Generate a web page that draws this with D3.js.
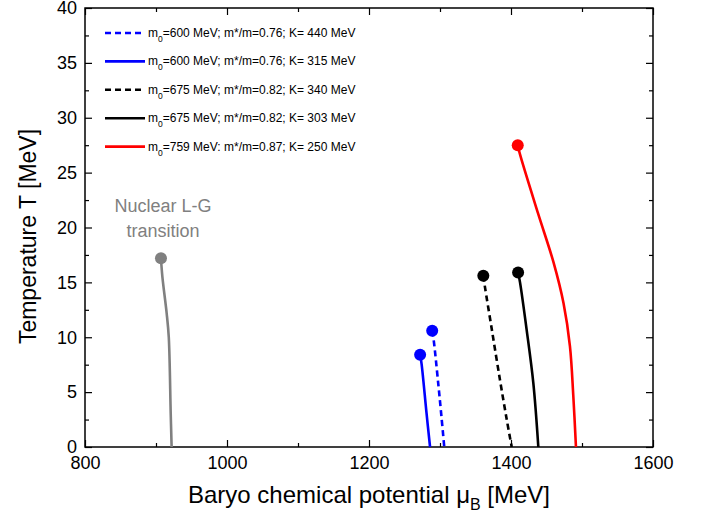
<!DOCTYPE html>
<html>
<head>
<meta charset="utf-8">
<script src="https://cdn.jsdelivr.net/npm/d3@7/dist/d3.min.js"></script>
<style>
  body { margin: 0; background: #fff; }
  svg { font-family: "Liberation Sans", Arial, sans-serif; }
</style>
</head>
<body>
<svg id="chart" width="707" height="516"></svg>
<script>
// curves: [muB, T], top (critical point) first
const grayCurve = [[907, 17.2], [909, 15.5], [915, 12.2], [918, 10.0], [920.7, 3.1], [922, 0]];
const blueSolid = [[1272, 8.4], [1274, 7.6], [1281, 3.1], [1286, 0]];
const blueDashed = [[1289, 10.6], [1291, 9.8], [1297.5, 5.8], [1302, 2.8], [1306, 0]];
const blackDashed = [[1361, 15.6], [1363.5, 14.5], [1373, 10.7], [1384.5, 6.1], [1394, 2.5], [1401, 0]];
const blackSolid = [[1410, 15.9], [1412.7, 15.0], [1422, 10.7], [1431.5, 5.8], [1438.5, 0]];
const redSolid = [[1409.5, 27.5], [1412.5, 26.7], [1438, 21.3], [1460, 16.8], [1474, 13.1], [1483, 9.2], [1487.8, 4.6], [1491.5, 0]];

const series = [
  { data: blueDashed, color: "#0000ff", dashed: true, label: ["600", "MeV; m*/m=0.76; K= 440 MeV"] },
  { data: blueSolid, color: "#0000ff", dashed: false, label: ["600", "MeV; m*/m=0.76; K= 315 MeV"] },
  { data: blackDashed, color: "#000000", dashed: true, label: ["675", "MeV; m*/m=0.82; K= 340 MeV"] },
  { data: blackSolid, color: "#000000", dashed: false, label: ["675", "MeV; m*/m=0.82; K= 303 MeV"] },
  { data: redSolid, color: "#ff0000", dashed: false, label: ["759", "MeV: m*/m=0.87; K= 250 MeV"] }
];

const xTicks = [800, 1000, 1200, 1400, 1600];
const yTicks = [0, 5, 10, 15, 20, 25, 30, 35, 40];

const svg = d3.select("#chart");
const margin = { top: 8, right: 54, bottom: 69, left: 85 };
const width = +svg.attr("width") - margin.left - margin.right;
const height = +svg.attr("height") - margin.top - margin.bottom;

const x = d3.scaleLinear().domain([800, 1600]).range([0, width]);
const y = d3.scaleLinear().domain([0, 40]).range([height, 0]);

const g = svg.append("g").attr("transform", `translate(${margin.left},${margin.top})`);

// minor ticks
const xMinor = d3.range(900, 1600, 200);
const yMinor = d3.range(2.5, 40, 5);

function styleAxis(sel) {
  sel.select(".domain").remove();
  sel.selectAll(".tick line").attr("stroke", "#000").attr("stroke-width", 1.2);
  sel.selectAll(".tick text").attr("fill", "#000").attr("font-size", 18)
    .attr("font-family", "'Liberation Sans', Arial, sans-serif");
}

// bottom
g.append("g").attr("transform", `translate(0,${height})`)
  .call(d3.axisBottom(x).tickValues(xTicks).tickFormat(d3.format("d")).tickSizeInner(-7).tickSizeOuter(0).tickPadding(9))
  .call(styleAxis);
g.append("g").attr("transform", `translate(0,${height})`)
  .call(d3.axisBottom(x).tickValues(xMinor).tickFormat("").tickSizeInner(-4).tickSizeOuter(0))
  .call(styleAxis);
// top
g.append("g")
  .call(d3.axisTop(x).tickValues(xTicks).tickFormat("").tickSizeInner(-7).tickSizeOuter(0))
  .call(styleAxis);
g.append("g")
  .call(d3.axisTop(x).tickValues(xMinor).tickFormat("").tickSizeInner(-4).tickSizeOuter(0))
  .call(styleAxis);
// left
g.append("g")
  .call(d3.axisLeft(y).tickValues(yTicks).tickFormat(d3.format("d")).tickSizeInner(-7).tickSizeOuter(0).tickPadding(8))
  .call(styleAxis);
g.append("g")
  .call(d3.axisLeft(y).tickValues(yMinor).tickFormat("").tickSizeInner(-4).tickSizeOuter(0))
  .call(styleAxis);
// right
g.append("g").attr("transform", `translate(${width},0)`)
  .call(d3.axisRight(y).tickValues(yTicks).tickFormat("").tickSizeInner(-7).tickSizeOuter(0))
  .call(styleAxis);
g.append("g").attr("transform", `translate(${width},0)`)
  .call(d3.axisRight(y).tickValues(yMinor).tickFormat("").tickSizeInner(-4).tickSizeOuter(0))
  .call(styleAxis);

// frame
g.append("rect").attr("width", width).attr("height", height)
  .attr("fill", "none").attr("stroke", "#000").attr("stroke-width", 1.5);

const line = d3.line().x(d => x(d[0])).y(d => y(d[1])).curve(d3.curveCatmullRom.alpha(0.5));

function drawCurve(data, color, dashed) {
  g.append("path").datum(data)
    .attr("d", line)
    .attr("fill", "none")
    .attr("stroke", color)
    .attr("stroke-width", 2.6)
    .attr("stroke-linejoin", "round")
    .attr("stroke-dasharray", dashed ? "6,4" : null);
  g.append("circle")
    .attr("cx", x(data[0][0])).attr("cy", y(data[0][1]))
    .attr("r", 6).attr("fill", color);
}

drawCurve(grayCurve, "#808080", false);
series.forEach(s => drawCurve(s.data, s.color, s.dashed));

// nuclear L-G label
g.append("text").attr("x", x(910)).attr("y", 204)
  .attr("text-anchor", "middle").attr("font-size", 18).attr("fill", "#808080")
  .text("Nuclear L-G");
g.append("text").attr("x", x(910)).attr("y", 229)
  .attr("text-anchor", "middle").attr("font-size", 18).attr("fill", "#808080")
  .text("transition");

// legend
const legend = svg.append("g").attr("transform", "translate(105,33)");
series.forEach((s, i) => {
  const row = legend.append("g").attr("transform", `translate(0,${i * 28.4})`);
  row.append("line").attr("x1", 0).attr("x2", 40).attr("y1", 0).attr("y2", 0)
    .attr("stroke", s.color).attr("stroke-width", 2.6)
    .attr("stroke-dasharray", s.dashed ? "6,4" : null);
  const t = row.append("text").attr("x", 43).attr("y", 4).attr("font-size", 12).attr("fill", "#000");
  t.append("tspan").text("m");
  t.append("tspan").attr("dy", 5).attr("font-size", 8.5).text("0");
  t.append("tspan").attr("dy", -5).text("=" + s.label[0] + " " + s.label[1]);
});

// axis titles
const xt = svg.append("text")
  .attr("x", margin.left + width / 2).attr("y", 503)
  .attr("text-anchor", "middle").attr("font-size", 24).attr("fill", "#000");
xt.append("tspan").text("Baryo chemical potential \u03bc");
xt.append("tspan").attr("dy", 7).attr("font-size", 16).text("B");
xt.append("tspan").attr("dy", -7).text(" [MeV]");

svg.append("text")
  .attr("transform", `translate(36,${margin.top + height / 2 + 9}) rotate(-90)`)
  .attr("text-anchor", "middle").attr("font-size", 23).attr("fill", "#000")
  .text("Temperature T [MeV]");
</script>
</body>
</html>
